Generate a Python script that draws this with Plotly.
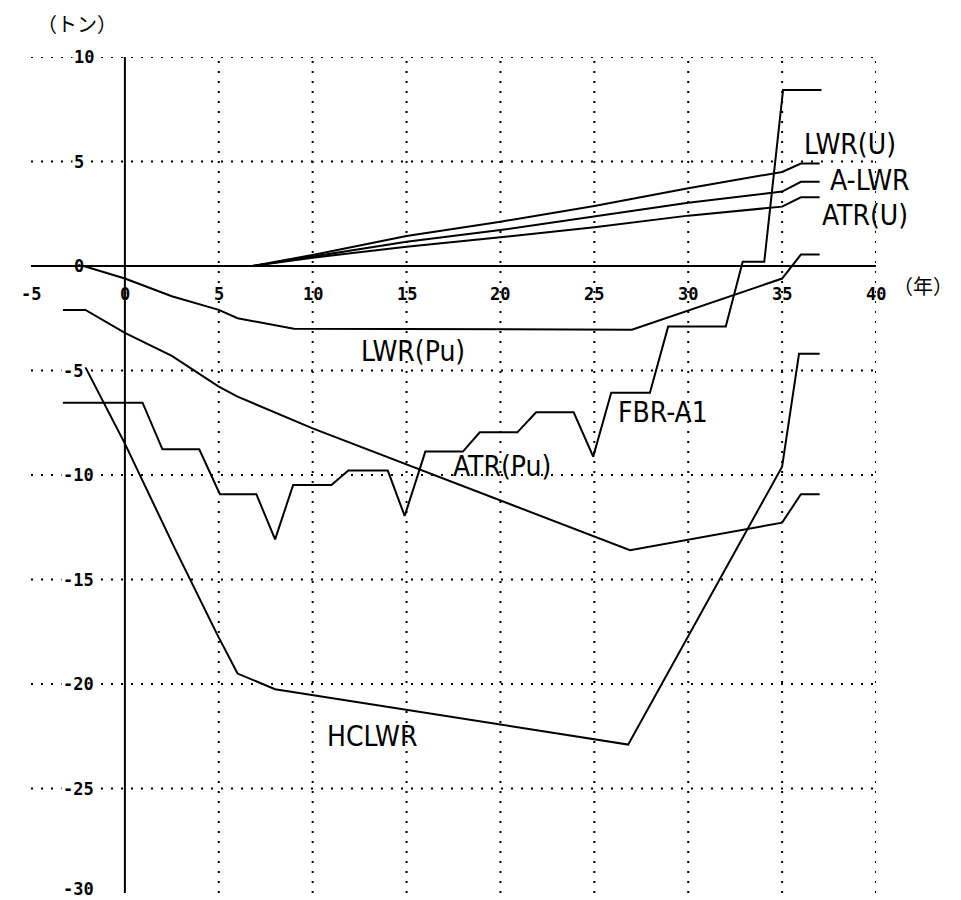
import plotly.graph_objects as go

# Axis ticks
X_TICKS = [-5, 0, 5, 10, 15, 20, 25, 30, 35, 40]
Y_TICKS = [10, 5, 0, -5, -10, -15, -20, -25, -30]

# Uranium-side series (tons)
U_YEARS = [-2, 6.8, 10, 15, 20, 25, 30, 35, 36, 37]
LWR_U = [0, 0, 0.53, 1.44, 2.12, 2.87, 3.72, 4.5, 4.9, 4.9]
A_LWR = [0, 0, 0.45, 1.16, 1.72, 2.36, 3.03, 3.56, 4.03, 4.03]
ATR_U = [0, 0, 0.40, 0.92, 1.37, 1.85, 2.41, 2.84, 3.29, 3.29]

# Plutonium-side series
LWR_PU_X = [-2.2, 0, 2.5, 5, 6, 9, 27, 35, 36, 37]
LWR_PU_Y = [0, -0.6, -1.45, -2.1, -2.5, -3.0, -3.05, -0.6, 0.55, 0.55]

ATR_PU_X = [-3.3, -2.1, 0, 2.5, 5, 6, 10, 26.9, 35, 36, 37]
ATR_PU_Y = [-2.1, -2.1, -3.2, -4.3, -5.77, -6.25, -7.77, -13.6, -12.28, -10.92, -10.92]

HCLWR_X = [-2.1, 0, 2.6, 4.9, 6, 8, 26.8, 35, 35.9, 37]
HCLWR_Y = [-4.85, -8.5, -13.4, -17.6, -19.5, -20.25, -22.9, -9.6, -4.2, -4.2]

FBR_X = [-3.3, 0.94, 2.0, 3.96, 5.06, 7.0, 8.0, 8.96, 11.0, 11.9, 14.0, 14.9,
         16.0, 18.0, 18.9, 20.9, 21.9, 23.9, 24.94, 25.9, 27.96, 28.93, 32.0,
         32.9, 34.05, 35.05, 37.1]
FBR_Y = [-6.54, -6.54, -8.77, -8.77, -10.92, -10.92, -13.08, -10.48, -10.48,
         -9.79, -9.79, -11.96, -8.88, -8.88, -7.96, -7.96, -7.0, -7.0, -9.12,
         -6.06, -6.06, -2.9, -2.9, 0.2, 0.2, 8.42, 8.42]

# Series names with label anchor (data coords)
LABELS = [
    ("LWR(U)", 38.6, 5.8),
    ("A-LWR", 39.7, 4.07),
    ("ATR(U)", 39.4, 2.44),
    ("LWR(Pu)", 15.35, -4.07),
    ("FBR-A1", 28.65, -6.99),
    ("ATR(Pu)", 20.1, -9.57),
    ("HCLWR", 13.15, -22.5),
]

LINE = dict(color="black", width=2)
fig = go.Figure()
series = [
    (U_YEARS, LWR_U), (U_YEARS, A_LWR), (U_YEARS, ATR_U),
    (LWR_PU_X, LWR_PU_Y), (ATR_PU_X, ATR_PU_Y),
    (HCLWR_X, HCLWR_Y), (FBR_X, FBR_Y),
]
for xs, ys in series:
    fig.add_trace(go.Scatter(x=xs, y=ys, mode="lines", line=LINE,
                             hoverinfo="skip", showlegend=False))

x0, x1 = X_TICKS[0], X_TICKS[-1]
y0, y1 = Y_TICKS[-1], Y_TICKS[0]

shapes = []
dot = dict(color="black", width=2, dash="2px,8px")
for xv in X_TICKS:
    if xv > 0:
        shapes.append(dict(type="line", xref="x", yref="y", x0=xv, x1=xv,
                           y0=y0, y1=y1, line=dot, layer="below"))
for yv in Y_TICKS:
    if yv not in (0, y0):
        shapes.append(dict(type="line", xref="x", yref="y", x0=x0, x1=x1,
                           y0=yv, y1=yv, line=dot, layer="below"))
# solid axes through the origin
shapes.append(dict(type="line", xref="x", yref="y", x0=x0 - 0.3, x1=x1,
                   y0=0, y1=0, line=dict(color="black", width=2)))
shapes.append(dict(type="line", xref="x", yref="y", x0=0, x1=0,
                   y0=y0, y1=y1, line=dict(color="black", width=2)))

tick_font = dict(family="DejaVu Sans Mono", size=17, color="black", weight="bold")
label_font = dict(family="Liberation Sans Narrow, DejaVu Sans Condensed, Liberation Mono",
                  size=28, color="black")
cjk_font = dict(family="Noto Sans CJK JP", size=20, color="black")

annotations = []
for xv in X_TICKS:
    annotations.append(dict(x=xv, y=-1.34, xref="x", yref="y", text=str(xv),
                            showarrow=False, font=tick_font,
                            xanchor="center", yanchor="middle"))
for yv in Y_TICKS:
    lx = -2.82 if yv >= 0 else -3.4
    ly = yv + 0.2 if yv == y0 else yv
    annotations.append(dict(x=lx, y=ly, xref="x", yref="y", text=str(yv),
                            showarrow=False, font=tick_font,
                            xanchor="left", yanchor="middle",
                            bgcolor="white" if yv != 0 else None, borderpad=1))
for text, lx, ly in LABELS:
    annotations.append(dict(x=lx, y=ly, xref="x", yref="y", text=text,
                            showarrow=False, font=label_font,
                            xanchor="center", yanchor="middle"))
annotations.append(dict(x=0.0544, y=1.04, xref="paper", yref="paper",
                        text="（トン）", showarrow=False, font=cjk_font,
                        xanchor="center", yanchor="middle"))
annotations.append(dict(x=1.094, y=0.727, xref="paper", yref="paper",
                        text="（年）", showarrow=False, font=cjk_font,
                        xanchor="right", yanchor="middle"))

fig.update_layout(
    width=961, height=900,
    margin=dict(l=31, r=85, t=57, b=7),
    paper_bgcolor="white", plot_bgcolor="white",
    xaxis=dict(range=[x0, x1], showgrid=False, zeroline=False,
               showticklabels=False, showline=False, ticks=""),
    yaxis=dict(range=[y0, y1], showgrid=False, zeroline=False,
               showticklabels=False, showline=False, ticks=""),
    shapes=shapes, annotations=annotations,
)

fig.write_html("out.html")
